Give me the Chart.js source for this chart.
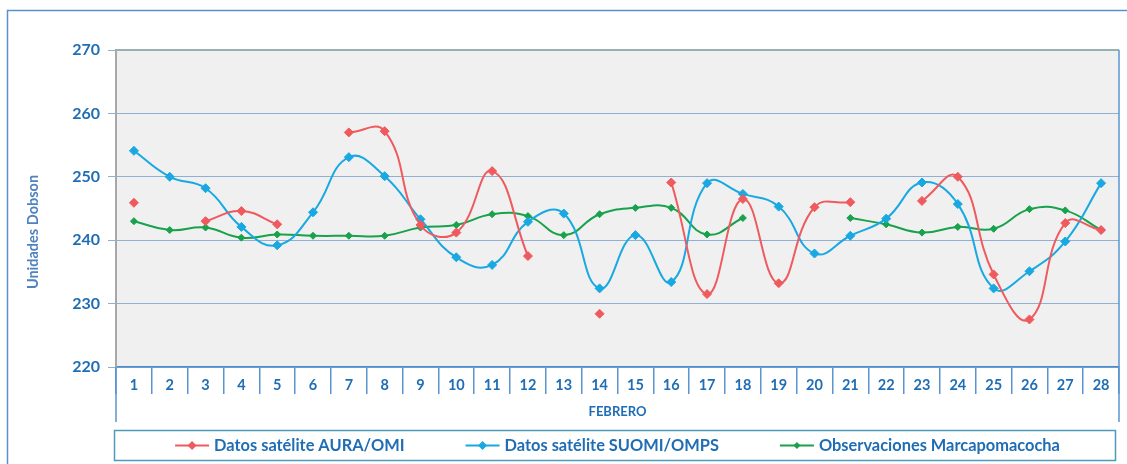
<!DOCTYPE html>
<html>
<head>
<meta charset="utf-8">
<script src="https://cdn.jsdelivr.net/npm/chart.js@4/dist/chart.umd.min.js"></script>
<style>
    html, body { margin: 0; padding: 0; background: #ffffff; }
    #wrap { width: 1127px; height: 464px; position: relative; }
</style>
</head>
<body>
<div id="wrap"><canvas id="ozoneChart" width="1127" height="464"></canvas></div>
<script>
// Febrero - columna total de ozono (UD)
const days = ["1", "2", "3", "4", "5", "6", "7", "8", "9", "10", "11", "12", "13", "14",
    "15", "16", "17", "18", "19", "20", "21", "22", "23", "24", "25", "26", "27", "28"];

const auraOmi = [245.9, null, 243.0, 244.6, 242.5, null, 257.0, 257.2, 242.4, 241.2, 250.9, 237.5, null, 228.4,
    null, 249.1, 231.5, 246.5, 233.2, 245.2, 246.0, null, 246.2, 250.0, 234.6, 227.5, 242.7, 241.6];

const suomiOmps = [254.1, 250.0, 248.2, 242.1, 239.2, 244.4, 253.1, 250.1, 243.3, 237.3, 236.1, 242.9, 244.2, 232.4,
    240.8, 233.4, 249.0, 247.3, 245.3, 237.9, 240.7, 243.4, 249.1, 245.7, 232.4, 235.1, 239.8, 249.0];

const marcapomacocha = [243.0, 241.6, 242.0, 240.4, 240.9, 240.7, 240.7, 240.7, 242.0, 242.4, 244.1, 243.8, 240.8, 244.1,
    245.1, 245.1, 240.9, 243.5, null, null, 243.5, 242.5, 241.2, 242.1, 241.8, 244.9, 244.7, 241.6];

const seriesNames = ["Datos satélite AURA/OMI", "Datos satélite SUOMI/OMPS", "Observaciones Marcapomacocha"];
const seriesColors = ["#ef5a5e", "#18a8e2", "#17a24b"];
const yMin = 220;
const yMax = 270;
const yStep = 10;

const labelBlue = "#1f6db4";
const fontFamily = "Lato, 'Open Sans', sans-serif";

// fondo gris del area de trazado y marco exterior azul
const backgroundPlugin = {
    id: "plotBackground",
    beforeDraw(chart) {
        const { ctx, chartArea } = chart;
        ctx.save();
        ctx.strokeStyle = "#5a8fcf";
        ctx.lineWidth = 1.5;
        ctx.strokeRect(7.5, 10.5, 1300, 600);
        ctx.fillStyle = "#f0f0f0";
        ctx.fillRect(chartArea.left, chartArea.top, chartArea.right - chartArea.left, chartArea.bottom - chartArea.top);
        ctx.restore();
    },
    afterDraw(chart) {
        const { ctx, chartArea } = chart;
        ctx.save();
        // borde superior
        ctx.strokeStyle = "#97b0b3";
        ctx.lineWidth = 2;
        ctx.beginPath();
        ctx.moveTo(chartArea.left, chartArea.top);
        ctx.lineTo(chartArea.right, chartArea.top);
        ctx.stroke();
        // lineas verticales del eje de categorias
        ctx.strokeStyle = "#5b95cf";
        ctx.lineWidth = 1.5;
        ctx.beginPath();
        ctx.moveTo(chartArea.right, chartArea.top);
        ctx.lineTo(chartArea.right, 422);
        ctx.moveTo(chartArea.left, chartArea.bottom);
        ctx.lineTo(chartArea.left, 422);
        ctx.stroke();
        ctx.restore();
    }
};

// titulo vertical del eje Y
const yTitlePlugin = {
    id: "yTitle",
    afterDraw(chart) {
        const ctx = chart.ctx;
        ctx.save();
        ctx.translate(33, 232);
        ctx.rotate(-Math.PI / 2);
        ctx.font = "bold 14.5px " + fontFamily;
        ctx.fillStyle = "#4f82c0";
        ctx.textAlign = "center";
        ctx.textBaseline = "middle";
        ctx.fillText("Unidades Dobson", 0, 0);
        ctx.restore();
    }
};

// leyenda en recuadro bajo el grafico
const legendBoxPlugin = {
    id: "legendBox",
    afterDraw(chart) {
        const { ctx, chartArea } = chart;
        ctx.save();
        ctx.strokeStyle = "#4f9ab8";
        ctx.lineWidth = 1.5;
        ctx.strokeRect(114.5, 430.5, 1001, 30);

        ctx.font = "bold 16.4px " + fontFamily;
        const lineLen = 34;
        const textGap = 5;
        const itemGap = 61;
        const widths = seriesNames.map((n) => lineLen + textGap + ctx.measureText(n).width);
        const total = widths.reduce((a, b) => a + b, 0) + itemGap * (seriesNames.length - 1);
        let x = (chartArea.left + chartArea.right) / 2 - total / 2;
        const y = 445.5;

        seriesNames.forEach((name, i) => {
            const c = seriesColors[i];
            ctx.strokeStyle = c;
            ctx.lineWidth = 2;
            ctx.beginPath();
            ctx.moveTo(x, y);
            ctx.lineTo(x + lineLen, y);
            ctx.stroke();
            const r = i === 2 ? 3.5 : 4.5;
            const cx = x + lineLen / 2;
            ctx.fillStyle = c;
            ctx.beginPath();
            ctx.moveTo(cx, y - r);
            ctx.lineTo(cx + r, y);
            ctx.lineTo(cx, y + r);
            ctx.lineTo(cx - r, y);
            ctx.closePath();
            ctx.fill();
            ctx.fillStyle = labelBlue;
            ctx.textAlign = "left";
            ctx.textBaseline = "middle";
            ctx.fillText(name, x + lineLen + textGap, y);
            x += widths[i] + itemGap;
        });
        ctx.restore();
    }
};

const makeDataset = function (label, data, color, radius) {
    return {
        label: label,
        data: data,
        borderColor: color,
        backgroundColor: color,
        borderWidth: 2,
        pointStyle: "rectRot",
        pointRadius: radius,
        pointHoverRadius: radius,
        pointBorderWidth: 1,
        tension: 0.45,
        spanGaps: false,
        fill: false
    };
};

const ctx = document.getElementById("ozoneChart").getContext("2d");

new Chart(ctx, {
    type: "line",
    data: {
        labels: days,
        datasets: [
            makeDataset(seriesNames[0], auraOmi, seriesColors[0], 4.5),
            makeDataset(seriesNames[1], suomiOmps, seriesColors[1], 4.5),
            makeDataset(seriesNames[2], marcapomacocha, seriesColors[2], 3.5)
        ]
    },
    options: {
        responsive: false,
        animation: false,
        devicePixelRatio: 1,
        layout: {
            padding: { left: 0, right: 8, top: 50, bottom: 42 }
        },
        plugins: {
            legend: { display: false },
            tooltip: { enabled: false }
        },
        scales: {
            x: {
                type: "category",
                offset: true,
                grid: {
                    offset: true,
                    drawOnChartArea: false,
                    drawTicks: true,
                    tickLength: 27,
                    color: "#5b95cf",
                    lineWidth: 1.5
                },
                border: { color: "#4a8bcd", width: 1.5 },
                ticks: {
                    padding: -17,
                    maxRotation: 0,
                    autoSkip: false,
                    color: labelBlue,
                    font: { family: fontFamily, size: 14.5, weight: "bold" }
                },
                title: {
                    display: true,
                    text: "FEBRERO",
                    color: labelBlue,
                    font: { family: fontFamily, size: 13, weight: "bold" },
                    padding: { top: 0, bottom: 2 }
                },
                afterFit: function (scale) {
                    scale.height = 55;
                }
            },
            y: {
                min: yMin,
                max: yMax,
                ticks: {
                    stepSize: yStep,
                    padding: 8,
                    color: labelBlue,
                    font: { family: fontFamily, size: 16, weight: "bold" }
                },
                grid: {
                    color: "#8fb0d2",
                    lineWidth: 1,
                    tickLength: 8
                },
                border: { color: "#a8a8a8", width: 2 },
                afterFit: function (scale) {
                    scale.width = 116;
                }
            }
        }
    },
    plugins: [backgroundPlugin, yTitlePlugin, legendBoxPlugin]
});
</script>
</body>
</html>
